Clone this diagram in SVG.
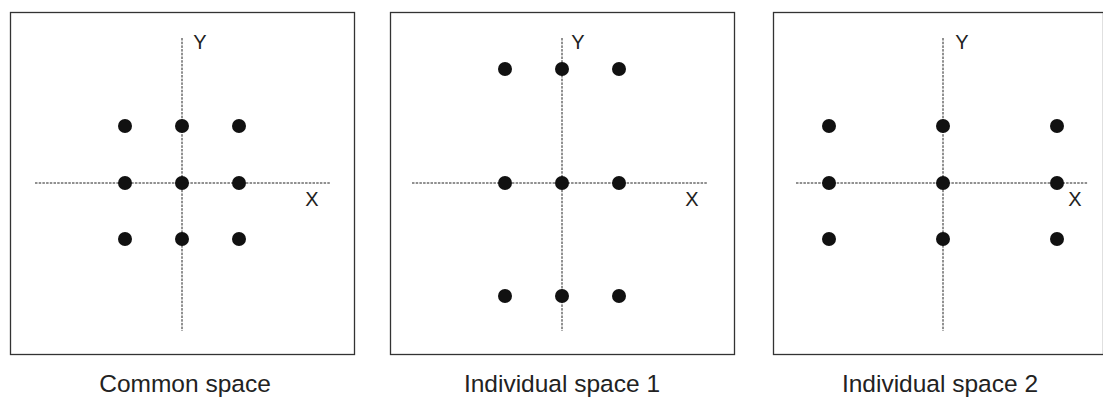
<svg xmlns="http://www.w3.org/2000/svg" width="1103" height="398" viewBox="0 0 1103 398">
<style>
.frame{fill:#fff;stroke:#333;stroke-width:1.3}
.axis{stroke:#222;stroke-width:1;stroke-dasharray:2.5 1.2;fill:none}
.dot{fill:#111}
.lbl{font-family:"Liberation Sans",Arial,sans-serif;font-size:20px;fill:#222;text-anchor:middle}
.cap{font-family:"Liberation Sans",Arial,sans-serif;font-size:24.5px;fill:#222;text-anchor:middle}
</style>
<rect width="1103" height="398" fill="#fff"/>
<g id="panel-common">
<rect class="frame" x="10.5" y="12.5" width="344" height="342"/>
<line class="axis" x1="182" y1="38" x2="182" y2="331"/>
<line class="axis" x1="35" y1="183" x2="330" y2="183"/>
<text class="lbl" x="200" y="49">Y</text>
<text class="lbl" x="312" y="206">X</text>
<g class="dot">
<circle cx="125" cy="126" r="7"/><circle cx="182" cy="126" r="7"/><circle cx="239" cy="126" r="7"/>
<circle cx="125" cy="183" r="7"/><circle cx="182" cy="183" r="7"/><circle cx="239" cy="183" r="7"/>
<circle cx="125" cy="239" r="7"/><circle cx="182" cy="239" r="7"/><circle cx="239" cy="239" r="7"/>
</g>
<text class="cap" x="185" y="392">Common space</text>
</g>
<g id="panel-individual-1">
<rect class="frame" x="390.5" y="12.5" width="344" height="342"/>
<line class="axis" x1="562" y1="38" x2="562" y2="331"/>
<line class="axis" x1="412" y1="183" x2="707" y2="183"/>
<text class="lbl" x="578" y="49">Y</text>
<text class="lbl" x="692" y="206">X</text>
<g class="dot">
<circle cx="505" cy="69" r="7"/><circle cx="562" cy="69" r="7"/><circle cx="619" cy="69" r="7"/>
<circle cx="505" cy="183" r="7"/><circle cx="562" cy="183" r="7"/><circle cx="619" cy="183" r="7"/>
<circle cx="505" cy="296" r="7"/><circle cx="562" cy="296" r="7"/><circle cx="619" cy="296" r="7"/>
</g>
<text class="cap" x="562" y="392">Individual space 1</text>
</g>
<g id="panel-individual-2">
<rect class="frame" x="773.5" y="12.5" width="330" height="342"/>
<line class="axis" x1="943" y1="38" x2="943" y2="331"/>
<line class="axis" x1="796" y1="183" x2="1088" y2="183"/>
<text class="lbl" x="962" y="49">Y</text>
<text class="lbl" x="1075" y="206">X</text>
<g class="dot">
<circle cx="829" cy="126" r="7"/><circle cx="943" cy="126" r="7"/><circle cx="1057" cy="126" r="7"/>
<circle cx="829" cy="183" r="7"/><circle cx="943" cy="183" r="7"/><circle cx="1057" cy="183" r="7"/>
<circle cx="829" cy="239" r="7"/><circle cx="943" cy="239" r="7"/><circle cx="1057" cy="239" r="7"/>
</g>
<text class="cap" x="940" y="392">Individual space 2</text>
</g>
</svg>
